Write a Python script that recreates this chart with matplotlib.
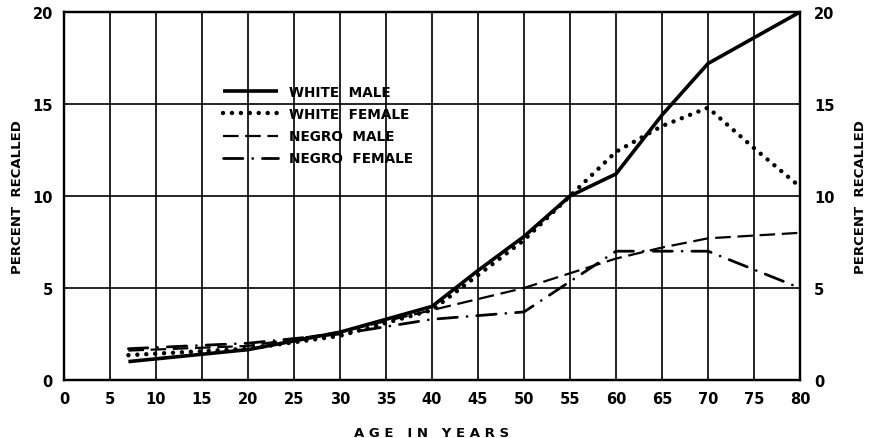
import matplotlib
matplotlib.use("Agg")
import matplotlib.pyplot as plt
import numpy as np

ages = [7, 20, 30, 40, 45, 50, 55, 60, 65, 70, 75, 80]
white_male   = [1.0, 1.65, 2.6, 4.0, 5.95, 7.8, 10.0, 11.2, 14.4, 17.2, 18.6, 20.0]
white_female = [1.35, 1.7, 2.4, 3.8, 5.7, 7.6, 10.0, 12.4, 13.8, 14.8, 12.6, 10.5]
negro_male   = [1.6, 1.85, 2.6, 3.8, 4.4, 5.0, 5.8, 6.6, 7.2, 7.7, 7.85, 8.0]
negro_female = [1.7, 2.0, 2.5, 3.3, 3.5, 3.7, 5.35, 7.0, 7.0, 7.0, 6.0, 5.0]

xticks = list(range(0, 81, 5))
yticks = [0, 5, 10, 15, 20]
labels = ["WHITE  MALE", "WHITE  FEMALE", "NEGRO  MALE", "NEGRO  FEMALE"]

plt.rcParams['font.family'] = ['DejaVu Sans']
plt.rcParams['font.weight'] = 'bold'

fig = plt.figure(figsize=(8.72, 4.39), dpi=100)
ax = fig.add_axes([64/872, 1-381/439, 736/872, 368/439])
ax.set_xlim(0, 80)
ax.set_ylim(0, 20)

for x in xticks[1:-1]:
    ax.axvline(x, color='black', lw=1.2, zorder=1)
for y in yticks[1:-1]:
    ax.axhline(y, color='black', lw=1.2, zorder=1)

ax.plot(ages, white_male, color='black', lw=2.6, solid_capstyle='butt', label=labels[0], zorder=3)
ax.plot(ages, white_female, color='black', lw=3.2, linestyle=(0, (0.01, 2.0)),
        dash_capstyle='round', label=labels[1], zorder=3)
ax.plot(ages, negro_male, color='black', lw=1.6, linestyle=(0, (7, 3)), label=labels[2], zorder=3)
ax.plot(ages, negro_female, color='black', lw=2.0, linestyle=(0, (7, 3.5, 0.01, 3.5)),
        dash_capstyle='round', label=labels[3], zorder=3)

for s in ax.spines.values():
    s.set_linewidth(1.6)

ax.set_xticks(xticks)
ax.set_yticks(yticks)
ax.tick_params(axis='both', length=0, labelsize=10.5, pad=8)
for lab in ax.get_xticklabels() + ax.get_yticklabels():
    lab.set_fontweight('bold')
ax.set_xlabel("A G E   I N   Y E A R S", fontsize=9.5, fontweight='bold', labelpad=14)
ax.set_ylabel("PERCENT  RECALLED", fontsize=9.5, fontweight='bold', labelpad=6)

ax2 = ax.twinx()
ax2.set_ylim(0, 20)
ax2.set_yticks(yticks)
ax2.tick_params(axis='y', length=0, labelsize=10.5, pad=10)
for lab in ax2.get_yticklabels():
    lab.set_fontweight('bold')
ax2.set_ylabel("PERCENT  RECALLED", fontsize=9.5, fontweight='bold', labelpad=14)
for s in ax2.spines.values():
    s.set_linewidth(1.6)

leg = ax.legend(loc='upper left', bbox_to_anchor=(0.2, 0.835), frameon=False,
                handlelength=4.0, handletextpad=0.8, labelspacing=0.6,
                prop={'size': 9.8, 'weight': 'bold'})

fig.savefig("out.png", dpi=100)
